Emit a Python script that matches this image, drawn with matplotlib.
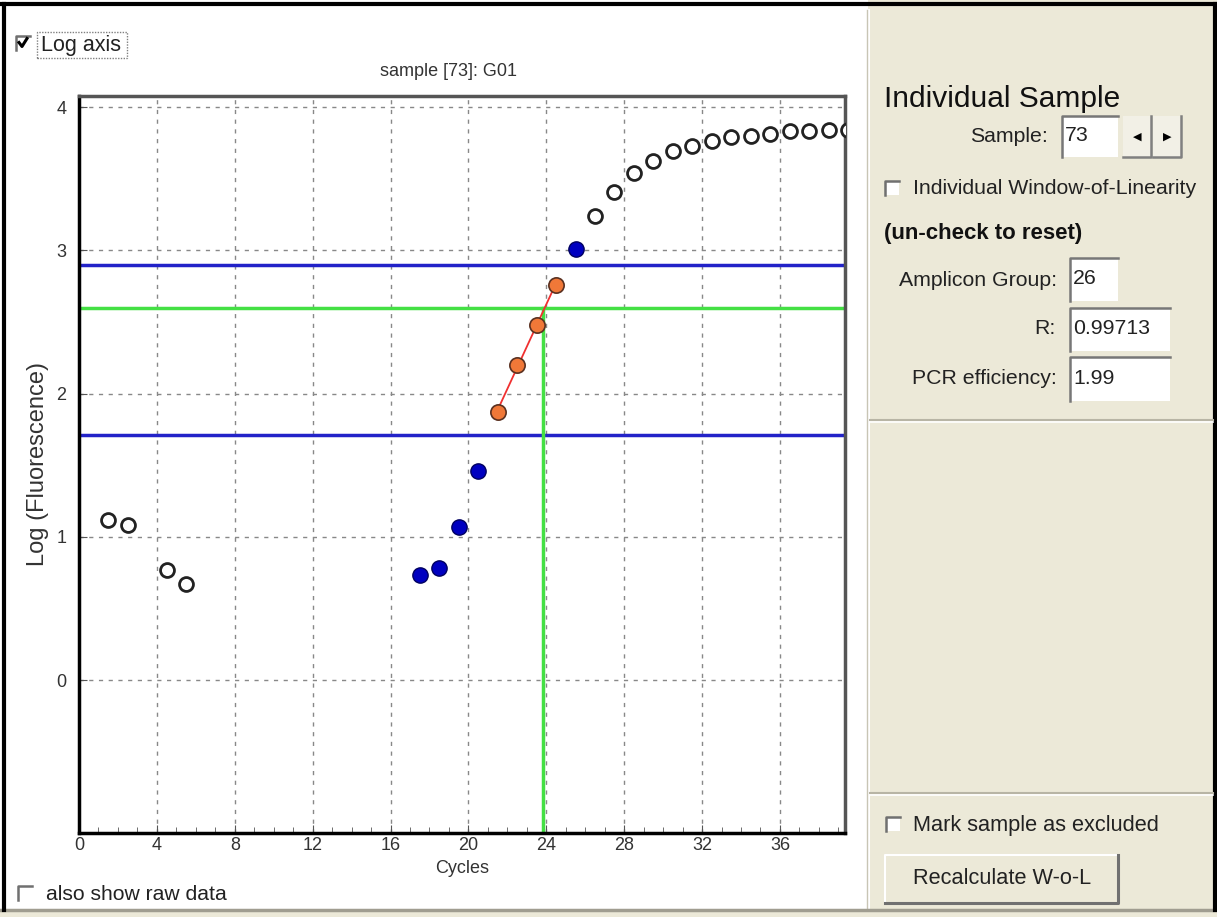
import numpy as np
import matplotlib
matplotlib.use("Agg")
import matplotlib.pyplot as plt
from matplotlib.patches import Rectangle
from matplotlib.lines import Line2D

plt.rcParams['font.family'] = ['Liberation Sans', 'DejaVu Sans']

# ---------------- data ----------------
open_early_x = [1.5, 2.5, 4.5, 5.5]
open_early_y = [1.12, 1.08, 0.77, 0.67]
blue_x = [17.5, 18.5, 19.5, 20.5, 25.5]
blue_y = [0.73, 0.78, 1.07, 1.46, 3.01]
orange_x = [21.5, 22.5, 23.5, 24.5]
orange_y = [1.87, 2.20, 2.48, 2.76]
open_late_x = [26.5, 27.5, 28.5, 29.5, 30.5, 31.5, 32.5, 33.5, 34.5, 35.5, 36.5, 37.5, 38.5, 39.5]
open_late_y = [3.24, 3.41, 3.54, 3.62, 3.69, 3.73, 3.76, 3.79, 3.80, 3.81, 3.83, 3.83, 3.84, 3.84]
blue_levels = [2.90, 1.71]
green_level = 2.60
green_cycle = 23.85
x_ticks = [0, 4, 8, 12, 16, 20, 24, 28, 32, 36]
y_ticks = [0, 1, 2, 3, 4]
title = "sample [73]: G01"

W, H = 1217, 917
fig = plt.figure(figsize=(W / 100, H / 100), dpi=100)
fig.patch.set_facecolor("white")


def P(x, y):
    return (x / W, 1 - y / H)


def rect(x0, y0, x1, y1, zorder=5, **kw):
    r = Rectangle(P(x0, y1), (x1 - x0) / W, (y1 - y0) / H, transform=fig.transFigure,
                  zorder=zorder, **kw)
    fig.add_artist(r)
    return r


def line(xs, ys, zorder=6, **kw):
    fx = [x / W for x in xs]
    fy = [1 - y / H for y in ys]
    fig.add_artist(Line2D(fx, fy, transform=fig.transFigure, zorder=zorder, **kw))


def text(x, y, s, size, **kw):
    fx, fy = P(x, y)
    kw.setdefault("zorder", 8)
    fig.text(fx, fy, s, fontsize=size, **kw)


BEIGE = "#ECE9D8"
TXT = "#222222"

# right panel background
rect(868, 0, W, H, facecolor=BEIGE, edgecolor="none", zorder=0)
line([869, 869], [10, 909], color="#FFFFFF", lw=1.5, zorder=1)
line([867, 867], [10, 909], color="#C8C5B5", lw=1, zorder=1)
# bottom strip
rect(0, 910, W, H, facecolor=BEIGE, edgecolor="none", zorder=0)
line([0, W], [910, 910], color="#A09D90", lw=2.5, zorder=1)
# outer black frame
line([0, W], [4, 4], color="black", lw=3)
line([4, 4], [4, 910], color="black", lw=3)
line([W - 2, W - 2], [4, 910], color="black", lw=3)

# separators in right panel
for yy in (420, 793):
    line([870, W - 4], [yy, yy], color="#B8B5A5", lw=1.5)
    line([870, W - 4], [yy + 2, yy + 2], color="#FFFFFF", lw=1.2)

# ---------------- axes ----------------
ax = fig.add_axes([79 / W, 1 - 833 / H, (845 - 79) / W, (833 - 96) / H])
ax.set_xlim(0, 39.34)
ax.set_ylim(-1.068, 4.077)
ax.set_xticks(x_ticks)
ax.set_yticks(y_ticks)
ax.set_xticks(np.arange(0, 40, 1), minor=True)
ax.tick_params(axis="x", which="minor", direction="in", length=4, color="#555555")
ax.tick_params(axis="both", which="major", direction="in", length=6, labelsize=13,
               labelcolor="#333333", color="#555555")
ax.tick_params(axis="x", pad=3)
ax.tick_params(axis="y", pad=9)
ax.grid(True, which="major", linestyle=(0, (3, 4)), color="#888888", lw=1)
for s in ("left", "bottom"):
    ax.spines[s].set_color("black")
    ax.spines[s].set_linewidth(2.5)
for s in ("top", "right"):
    ax.spines[s].set_color("#555555")
    ax.spines[s].set_linewidth(2.5)
ax.set_axisbelow(True)

for lv in blue_levels:
    ax.axhline(lv, color="#2222C8", lw=2.5, zorder=2)
ax.axhline(green_level, color="#44E044", lw=2.5, zorder=2)
ax.plot([green_cycle, green_cycle], [-1.068, green_level], color="#44E044", lw=2.5, zorder=2)

coef = np.polyfit(orange_x, orange_y, 1)
fx = np.array([orange_x[0], orange_x[-1]])
ax.plot(fx, np.polyval(coef, fx), color="#F03030", lw=1.3, zorder=3)

ms = 10
ax.plot(open_early_x + open_late_x, open_early_y + open_late_y, linestyle="none", marker="o",
        ms=ms, mfc="white", mec="#222222", mew=2, zorder=4)
ax.plot(blue_x, blue_y, linestyle="none", marker="o", ms=ms + 1, mfc="#0000C0",
        mec="#000060", mew=1, zorder=4)
ax.plot(orange_x, orange_y, linestyle="none", marker="o", ms=ms + 1, mfc="#F07838",
        mec="#5a3020", mew=1.2, zorder=4)

ax.set_xlabel("Cycles", fontsize=13, color="#333333", labelpad=4)
ax.set_ylabel("Log (Fluorescence)", fontsize=17, color="#333333", labelpad=5)
text(448, 72, title, 13, color="#333333", ha="center", va="center")


# ---------------- widgets ----------------
def checkbox(x, y, checked=False):
    rect(x - 7, y - 7, x + 7, y + 7, facecolor="white", edgecolor="none", zorder=5)
    line([x - 7, x - 7, x + 7], [y + 7, y - 7, y - 7], color="#707070", lw=1.8)
    if checked:
        line([x - 4, x - 1, x + 4], [y - 0.5, y + 3.5, y - 4.5], color="black", lw=2.2)


checkbox(23, 43, checked=True)
text(41, 45, "Log axis", 15.5, color=TXT, va="center", ha="left")
rect(37, 32, 127, 58, facecolor="none", edgecolor="#808080", lw=1, linestyle=(0, (1, 1)))

checkbox(25, 893)
text(46, 894, "also show raw data", 15.2, color=TXT, va="center", ha="left")

# right panel text
text(884, 99, "Individual Sample", 21.5, color="#111111", va="center", ha="left")
text(1048, 137, "Sample:", 15.3, color=TXT, va="center", ha="right")


def field(x0, y0, x1, y1, s):
    rect(x0, y0, x1, y1, facecolor="white", edgecolor="none", zorder=5)
    line([x0, x0, x1], [y1, y0, y0], color="#777777", lw=1.8)
    text(x0 + 3, (y0 + y1) / 2 - 1, s, 15.3, color=TXT, va="center", ha="left")


field(1062, 116, 1118, 157, "73")
# spinner buttons
for bx0, glyph in ((1123, "◀"), (1153, "▶")):
    rect(bx0, 116, bx0 + 28, 157, facecolor="#F2F0E6", edgecolor="none", zorder=5)
    line([bx0 + 28, bx0 + 28, bx0], [116, 157, 157], color="#808080", lw=1.8)
    text(bx0 + 14, 137, glyph, 8, color="black", va="center", ha="center",
         family=["DejaVu Sans"])

checkbox(892, 188)
text(913, 189, "Individual Window-of-Linearity", 15.3, color=TXT, va="center", ha="left")
text(884, 234, "(un-check to reset)", 16, fontweight="bold", color="#111111",
     va="center", ha="left")

text(1057, 280, "Amplicon Group:", 15.3, color=TXT, va="center", ha="right")
field(1070, 258, 1118, 301, "26")
text(1055, 329, "R:", 15.3, color=TXT, va="center", ha="right")
field(1070, 308, 1170, 351, "0.99713")
text(1057, 379, "PCR efficiency:", 15.3, color=TXT, va="center", ha="right")
field(1070, 357, 1170, 401, "1.99")

checkbox(893, 824)
text(913, 825, "Mark sample as excluded", 15.7, color=TXT, va="center", ha="left")

rect(885, 855, 1118, 903, facecolor=BEIGE, edgecolor="none", zorder=5)
line([885, 885, 1118], [903, 855, 855], color="white", lw=1.5)
line([885, 1118, 1118], [903, 903, 855], color="#707070", lw=2.2)
text(1002, 879, "Recalculate W-o-L", 15.7, color=TXT, va="center", ha="center")

fig.savefig("out.png", dpi=100)
